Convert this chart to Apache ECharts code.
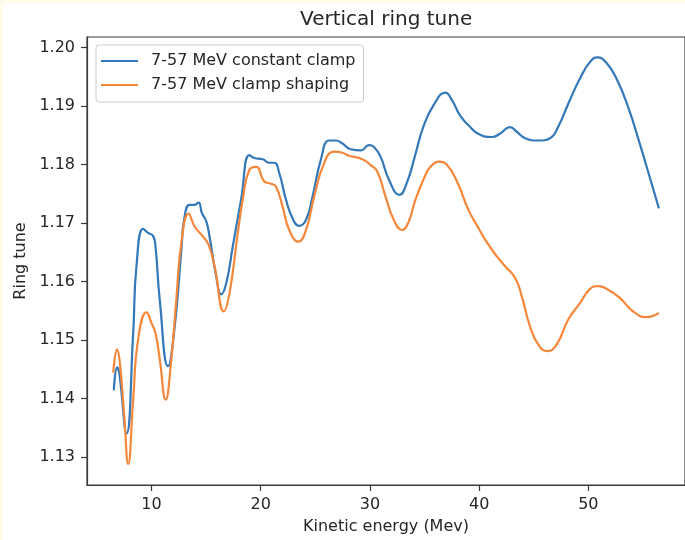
<!DOCTYPE html>
<html>
<head>
<meta charset="utf-8">
<script src="https://cdn.jsdelivr.net/npm/echarts@6/dist/echarts.min.js"></script>
<style>
html,body{margin:0;padding:0;background:#ffffff;}
#wrap{position:relative;width:685px;height:540px;}
#chart{width:685px;height:540px;}
#edge{position:absolute;left:0;top:0;width:685px;height:540px;box-sizing:border-box;
  border-left:3px solid #fffcec;border-top:3px solid #fffcec;pointer-events:none;}
</style>
</head>
<body>
<div id="wrap"><div id="chart"></div><div id="edge"></div></div>
<script>
const seriesNames = ["7-57 MeV constant clamp", "7-57 MeV clamp shaping"];
const xTicks = [10, 20, 30, 40, 50];
const yTicks = [1.13, 1.14, 1.15, 1.16, 1.17, 1.18, 1.19, 1.20];

const blueX = [6.55,6.85,7.04,7.71,8.32,8.62,9.23,9.68,10.14,10.36,10.75,11.51,12.12,12.73,13.03,13.49,13.94,14.31,14.61,15.01,15.31,15.92,16.38,16.84,17.44,18.20,18.96,19.42,20.18,20.79,21.24,21.70,22.31,22.91,23.52,24.14,24.74,25.50,26.26,26.87,27.48,28.24,29.15,29.91,30.37,30.98,31.74,32.70,33.40,34.10,34.90,35.84,36.91,37.51,38.28,39.03,39.95,41.16,41.93,42.84,43.44,44.21,45.42,46.49,47.25,48.16,49.23,50.14,50.83,51.65,52.57,53.63,54.70,55.61,56.46];
const blueY = [1.1414,1.1453,1.1444,1.1340,1.1512,1.1626,1.1690,1.1683,1.1678,1.1660,1.1569,1.1455,1.1523,1.1654,1.1711,1.1731,1.1731,1.1735,1.1717,1.1703,1.1677,1.1609,1.1578,1.1597,1.1660,1.1740,1.1816,1.1811,1.1809,1.1803,1.1803,1.1785,1.1740,1.1708,1.1695,1.1705,1.1745,1.1808,1.1841,1.1841,1.1836,1.1826,1.1824,1.1833,1.1830,1.1813,1.1774,1.1748,1.1770,1.1813,1.1865,1.1902,1.1923,1.1910,1.1883,1.1867,1.1852,1.1847,1.1853,1.1864,1.1856,1.1845,1.1841,1.1845,1.1865,1.1904,1.1947,1.1975,1.1983,1.1974,1.1947,1.1899,1.1836,1.1779,1.1725];

const orangeX = [6.49,6.85,7.10,7.50,7.86,8.32,8.77,9.54,9.99,10.36,10.75,11.30,11.75,12.27,12.73,13.40,13.94,14.70,15.22,15.77,16.62,17.14,17.90,18.35,18.96,19.57,20.33,20.94,21.40,22.00,22.61,23.46,24.14,24.89,25.80,26.72,27.48,28.09,29.30,30.07,30.67,31.43,32.19,32.95,33.50,34.17,35.08,35.54,36.30,37.06,37.97,39.03,39.95,40.56,41.62,42.38,43.30,43.90,44.66,45.42,46.24,47.09,48.16,49.23,50.14,50.90,51.81,52.88,54.09,55.30,56.46];
const orangeY = [1.1444,1.1484,1.1461,1.1370,1.1288,1.1398,1.1501,1.1547,1.1529,1.1512,1.1467,1.1398,1.1455,1.1569,1.1666,1.1716,1.1694,1.1677,1.1663,1.1626,1.1549,1.1580,1.1683,1.1740,1.1791,1.1796,1.1771,1.1767,1.1762,1.1728,1.1688,1.1668,1.1688,1.1745,1.1802,1.1822,1.1820,1.1815,1.1809,1.1799,1.1788,1.1745,1.1705,1.1688,1.1700,1.1740,1.1782,1.1796,1.1805,1.1799,1.1771,1.1722,1.1691,1.1671,1.1643,1.1626,1.1606,1.1575,1.1523,1.1492,1.1481,1.1492,1.1535,1.1563,1.1587,1.1592,1.1586,1.1572,1.1549,1.1539,1.1546];

const colors = ['#3378b8', '#f5873a'];
const FONT = 'DejaVu Sans';
const TXT = '#262626';

function pairs(xs, ys){ return xs.map((x,i)=>[x, ys[i]]); }

const chart = echarts.init(document.getElementById('chart'), null, {renderer:'canvas'});
chart.setOption({
  animation: false,
  backgroundColor: '#ffffff',
  title: {
    text: 'Vertical ring tune',
    left: 300, top: 10, padding: 0,
    textStyle: {fontFamily: FONT, fontSize: 20, fontWeight: 'normal', color: TXT}
  },
  grid: {
    left: 87, right: -2, top: 37, bottom: 54,
    show: true, backgroundColor: '#ffffff', borderColor: '#3a3a3a', borderWidth: 1.2
  },
  legend: {
    orient: 'vertical', left: 96, top: 45,
    padding: [8, 8, 9, 5], itemGap: 8, itemWidth: 37, itemHeight: 2.2,
    icon: 'rect',
    borderColor: '#cccccc', borderWidth: 1, borderRadius: 3,
    backgroundColor: 'rgba(255,255,255,0.8)',
    textStyle: {fontFamily: FONT, fontSize: 16, color: TXT, padding: [0,0,0,8]},
    data: seriesNames
  },
  xAxis: {
    type: 'value', min: 4.09, max: 58.85,
    name: 'Kinetic energy (Mev)', nameLocation: 'middle', nameGap: 34,
    nameTextStyle: {fontFamily: FONT, fontSize: 16, color: TXT},
    axisLine: {show: true, lineStyle: {color: '#3a3a3a', width: 1.2}},
    axisTick: {show: true, length: 6, customValues: xTicks, lineStyle: {color: '#3a3a3a', width: 1.2}},
    axisLabel: {customValues: xTicks, margin: 12, fontFamily: FONT, fontSize: 16, color: TXT},
    splitLine: {show: false}
  },
  yAxis: {
    type: 'value', min: 1.1252, max: 1.2018,
    name: 'Ring tune', nameLocation: 'middle', nameGap: 58,
    nameTextStyle: {fontFamily: FONT, fontSize: 16, color: TXT},
    axisLine: {show: true, lineStyle: {color: '#3a3a3a', width: 1.2}},
    axisTick: {show: true, length: 6, customValues: yTicks, lineStyle: {color: '#3a3a3a', width: 1.2}},
    axisLabel: {customValues: yTicks, margin: 12, fontFamily: FONT, fontSize: 16, color: TXT,
      formatter: v => v.toFixed(2)},
    splitLine: {show: false}
  },
  series: [
    {name: seriesNames[0], type: 'line', data: pairs(blueX, blueY), showSymbol: false, symbol: 'none',
     smooth: 0.5, lineStyle: {width: 2.2, color: colors[0]}, itemStyle: {color: colors[0]}},
    {name: seriesNames[1], type: 'line', data: pairs(orangeX, orangeY), showSymbol: false, symbol: 'none',
     smooth: 0.5, lineStyle: {width: 2.2, color: colors[1]}, itemStyle: {color: colors[1]}}
  ]
});
</script>
</body>
</html>
